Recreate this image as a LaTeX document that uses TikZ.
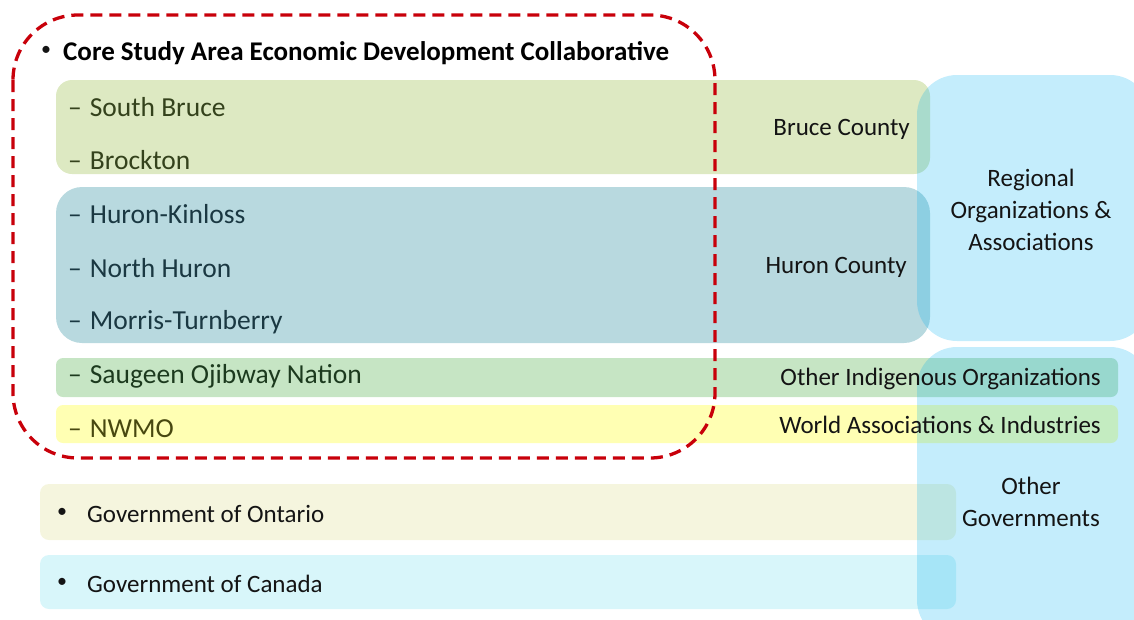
\documentclass[tikz,border=0pt]{standalone}
\usepackage{fontspec}
\setmainfont{Carlito}
\definecolor{bruceG}{RGB}{221,233,194}
\definecolor{huronB}{RGB}{184,217,223}
\definecolor{sonG}{RGB}{198,229,196}
\definecolor{nwmoY}{RGB}{255,255,179}
\definecolor{ontY}{RGB}{245,245,222}
\definecolor{canB}{RGB}{216,246,250}
\definecolor{skyB}{RGB}{0,176,240}
\definecolor{dashR}{RGB}{200,0,10}
\definecolor{txtG}{RGB}{52,66,28}
\definecolor{txtB}{RGB}{26,56,66}
\definecolor{txtS}{RGB}{28,58,30}
\definecolor{txtY}{RGB}{72,72,16}
\definecolor{txtK}{RGB}{20,20,20}
\tikzset{
  item/.style={anchor=west, inner sep=0pt, font=\fontsize{27.5}{32}\selectfont},
  tag/.style={anchor=east, inner sep=0pt, font=\fontsize{25}{30}\selectfont, text=txtK},
  gov/.style={anchor=west, inner sep=0pt, font=\fontsize{25}{30}\selectfont, text=txtK},
  dot/.style={anchor=center, inner sep=0pt, font=\fontsize{20}{24}\selectfont, text=txtK},
  group/.style={align=center, inner sep=0pt, font=\fontsize{25}{32}\selectfont, text=txtK},
  overlay box/.style={fill=skyB, fill opacity=0.23, rounded corners=40pt},
}
\begin{document}
\begin{tikzpicture}[x=1pt,y=-1pt]
\useasboundingbox (0,0) rectangle (1134,619);
\clip (0,0) rectangle (1134,619);

% coloured bands
\fill[bruceG, rounded corners=16pt] (56,80) rectangle (930,174);
\fill[huronB, rounded corners=26pt] (56,187) rectangle (930,343);
\fill[sonG, rounded corners=7pt] (56,358) rectangle (1118,397);
\fill[nwmoY, rounded corners=7pt] (56,405) rectangle (1118,443);
\fill[ontY, rounded corners=9pt] (40,484) rectangle (956,540);
\fill[canB, rounded corners=9pt] (40,555) rectangle (956,609);

% translucent group panels
\fill[overlay box] (917,75) rectangle (1150,341);
\fill[overlay box] (917,347) rectangle (1150,640);

% collaborative members
\node[dot] (tb) at (46,51) {•};
\node[anchor=west, inner sep=0pt, font=\fontsize{27}{32}\selectfont\bfseries] (title) at (63,53) {Core Study Area Economic Development Collaborative};
\node[item, text=txtG] (sb) at (68,107) {–\hspace{8pt}South Bruce};
\node[item, text=txtG] (br) at (68,160) {–\hspace{8pt}Brockton};
\node[item, text=txtB] (hk) at (68,214) {–\hspace{8pt}Huron-Kinloss};
\node[item, text=txtB] (nh) at (68,268) {–\hspace{8pt}North Huron};
\node[item, text=txtB] (mt) at (68,322) {–\hspace{8pt}Morris-Turnberry};
\node[item, text=txtS] (so) at (68,376) {–\hspace{8pt}Saugeen Ojibway Nation};
\node[item, text=txtY] (nw) at (68,429) {–\hspace{8pt}NWMO};

% band labels
\node[tag] (bc) at (910,129) {Bruce County};
\node[tag] (hc) at (907,267) {Huron County};
\node[tag] (oio) at (1101,379) {Other Indigenous Organizations};
\node[tag] (wai) at (1101,425) {World Associations \& Industries};

% governments
\node[dot] (ond) at (62,513) {•};
\node[gov] (on) at (87,514) {Government of Ontario};
\node[dot] (cad) at (62,583) {•};
\node[gov] (ca) at (87,584) {Government of Canada};

% group panel labels
\node[group] (reg) at (1031,210) {Regional\\Organizations \&\\Associations};
\node[group] (og) at (1031,502) {Other\\Governments};

% collaborative boundary
\draw[dashR, line width=3.3pt, dash pattern=on 12pt off 7pt, rounded corners=65pt]
  (13,15) rectangle (715,458);
\end{tikzpicture}
\end{document}
